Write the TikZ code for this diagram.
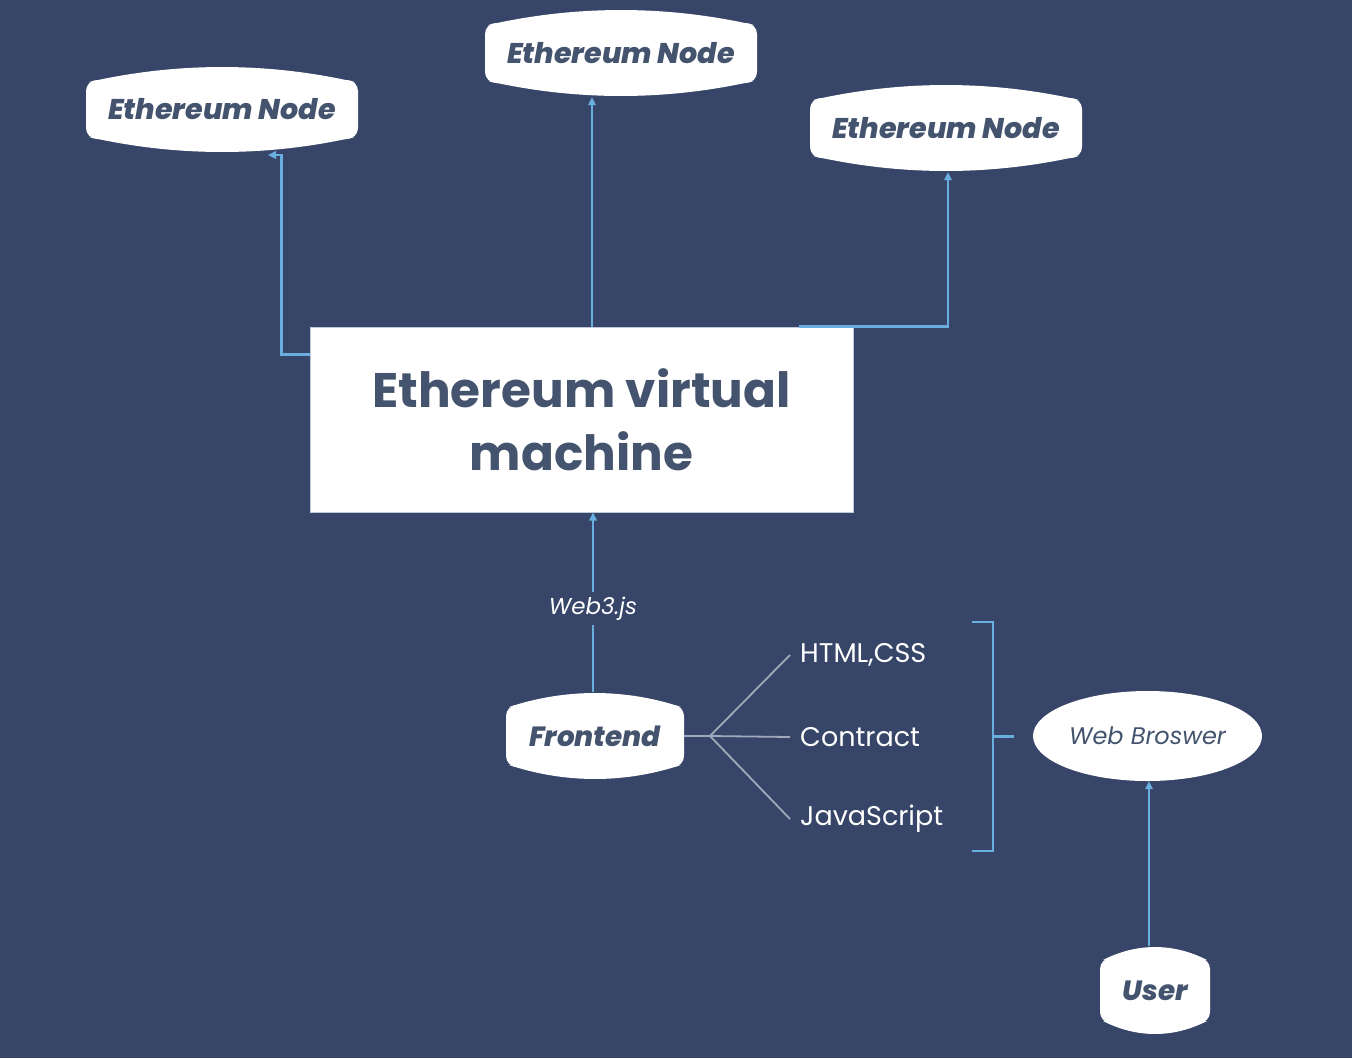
\documentclass[tikz,border=0pt]{standalone}
\usepackage{fontspec}
\setmainfont{Poppins}
\newfontfamily\heavyit{Poppins ExtraBold Italic}
\usetikzlibrary{arrows.meta,shapes.geometric,calc}
\definecolor{bg}{RGB}{54,69,104}
\definecolor{ink}{RGB}{68,84,110}
\definecolor{wire}{RGB}{104,175,224}
\definecolor{fan}{RGB}{160,170,188}
\definecolor{evmborder}{RGB}{190,200,215}
\newcommand{\blobfill}[5]{%
  \pgfmathsetmacro\bL{#1-#3/2}\pgfmathsetmacro\bR{#1+#3/2}%
  \pgfmathsetmacro\bT{#2-#4/2}\pgfmathsetmacro\bB{#2+#4/2}%
  \pgfmathsetmacro\bTd{\bT+#5}\pgfmathsetmacro\bBd{\bB-#5}%
  \pgfmathsetmacro\cT{\bT-#5/3+0.7}\pgfmathsetmacro\cB{\bB+#5/3-0.7}%
  \pgfmathsetmacro\cL{\bL+#3/3}\pgfmathsetmacro\cR{\bR-#3/3}%
  \fill[white,rounded corners=11pt] (\bL,\bTd) rectangle (\bR,\bBd);
  \fill[white] (\bL+3,\bTd+2) .. controls (\cL,\cT) and (\cR,\cT) .. (\bR-3,\bTd+2) -- cycle;
  \fill[white] (\bL+3,\bBd-2) .. controls (\cL,\cB) and (\cR,\cB) .. (\bR-3,\bBd-2) -- cycle;
}
\begin{document}
\begin{tikzpicture}[x=1pt,y=-1pt,
  ntext/.style={inner sep=0pt, text=ink, font=\heavyit\fontsize{28.5}{30}\selectfont},
  sidelabel/.style={anchor=west, inner xsep=10pt, inner ysep=0pt, text=white, font=\fontsize{27}{30}\selectfont},
  conn/.style={draw=wire, line width=2.2pt, -{Triangle[length=8pt,width=7.5pt]}},
  plainwire/.style={draw=wire, line width=2.2pt},
  fanwire/.style={draw=fan, line width=1.8pt}]
\fill[bg] (0,0) rectangle (1352,1058);
\useasboundingbox (0,0) rectangle (1352,1058);

% blob backgrounds
\blobfill{222}{109.5}{272}{87}{14}
\blobfill{621}{53}{272}{88}{14}
\blobfill{946}{128}{272}{88}{14}
\blobfill{595}{736}{178}{88}{13}
\blobfill{1155}{990.5}{110}{89}{12}

% nodes
\node[ntext, minimum width=272pt, minimum height=87pt] (n1) at (222,109.5) {Ethereum Node};
\node[ntext, minimum width=272pt, minimum height=88pt] (n2) at (621,53) {Ethereum Node};
\node[ntext, minimum width=272pt, minimum height=88pt] (n3) at (946,128) {Ethereum Node};
\node[ntext, minimum width=178pt, minimum height=88pt, font=\heavyit\fontsize{27.8}{30}\selectfont] (fe) at (595,736) {Frontend};
\node[ntext, minimum width=110pt, minimum height=89pt, font=\heavyit\fontsize{27.8}{30}\selectfont] (user) at (1155,990.5) {User};
\node[ellipse, fill=white, inner sep=0pt, minimum width=229pt, minimum height=90pt, text=ink, font=\itshape\fontsize{24}{28}\selectfont] (wb) at (1147.5,736) {Web Broswer};
\node[fill=white, draw=evmborder, line width=1pt, minimum width=543pt, minimum height=185pt, align=center, text=ink, font=\bfseries\fontsize{48.5}{63}\selectfont] (evm) at (581.5,419.5) {Ethereum virtual\\machine};

\node[sidelabel] (html) at (790,655) {HTML,CSS};
\node[sidelabel] (contract) at (790,737) {Contract};
\node[sidelabel] (js) at (790,819) {JavaScript};

% connectors
\coordinate (a1) at (268,155);
\draw[conn] ([yshift=-28pt]evm.north west) -- ++(-28,0) |- (a1);
\draw[conn] ([xshift=10.5pt]evm.north) -- ([xshift=10.5pt]evm.north |- n2.south);
\draw[conn] ([xshift=-55pt]evm.north east) -| ([xshift=2pt]n3.south);
\draw[conn] ([xshift=-2pt]fe.north) -- ([xshift=-2pt]fe.north |- evm.south)
  node[pos=0.465, fill=bg, inner xsep=3pt, inner ysep=5pt, text=white, font=\itshape\fontsize{23}{26}\selectfont] (w3) {Web3.js};

\coordinate (fj) at (710,736);
\draw[fanwire] (fe.east) -- (fj);
\draw[fanwire] (fj) -- (html.west);
\draw[fanwire] (fj) -- (contract.west);
\draw[fanwire] (fj) -- (js.west);

\draw[plainwire] (972,622) -- (993,622) -- (993,851) -- (972,851);
\draw[plainwire] (993,736.5) -- (1014,736.5);

\draw[conn] ([xshift=-6pt]user.north) -- ([xshift=-6pt]user.north |- wb.south);
\end{tikzpicture}
\end{document}
